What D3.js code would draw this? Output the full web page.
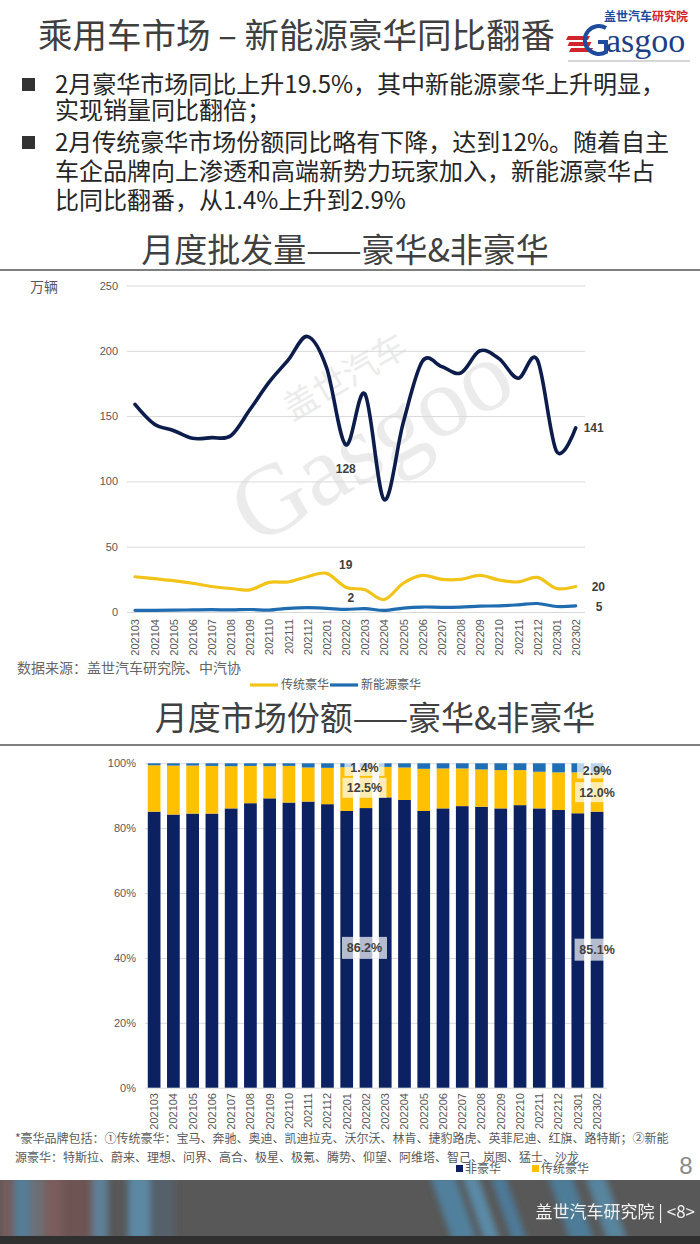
<!DOCTYPE html>
<html><head><meta charset="utf-8">
<script src="https://cdn.jsdelivr.net/npm/d3@7"></script>
<style>body{margin:0;background:#fff}svg{display:block}</style>
</head><body>
<script>
// ---------- data ----------
const months = ["202103","202104","202105","202106","202107","202108","202109","202110","202111","202112",
  "202201","202202","202203","202204","202205","202206","202207","202208","202209","202210","202211","202212",
  "202301","202302"];
const nonLuxVol = [159,144,139,133,133.5,135,155,176,193,211,187,128,167,86,145,192,188,183,200,194,179,193,123,141];
const tradVol   = [27,25.5,24,22,19.5,18,17,22.7,23,27,29.6,19,17,9.5,22,28,25,25,28,24.5,23,26.5,18,19.5];
const nevVol    = [1.3,1.3,1.4,1.6,1.8,1.6,1.9,1.5,2.8,3.3,2.8,2.0,2.6,1.2,3.0,3.8,3.6,3.8,4.5,4.7,5.5,6.5,4.2,4.7];
const volTicks = [0,50,100,150,200,250];

const nonLuxShare = [85.1,84.2,84.5,84.5,86.1,87.7,89.2,87.9,88.2,87.4,85.3,86.2,89.5,88.7,85.3,86.1,86.8,86.6,86.1,87.1,86.1,85.6,84.6,85.1];
const tradShare   = [14.3,15.1,14.8,14.7,13.0,11.5,9.9,11.3,10.5,11.2,13.5,12.5,9.4,10.0,13.0,12.3,11.6,11.5,11.8,10.8,11.3,11.6,12.6,12.0];
const nevShare    = [0.6,0.7,0.7,0.8,0.9,0.8,0.9,0.8,1.3,1.4,1.2,1.4,1.1,1.3,1.7,1.6,1.6,1.9,2.1,2.1,2.6,2.8,2.8,2.9];
const shareTicks = [0,20,40,60,80,100];

const pageTitle = "乘用车市场 – 新能源豪华同比翻番";
const bulletLines = [
  ["2月豪华市场同比上升19.5%，其中新能源豪华上升明显，", "实现销量同比翻倍；"],
  ["2月传统豪华市场份额同比略有下降，达到12%。随着自主", "车企品牌向上渗透和高端新势力玩家加入，新能源豪华占", "比同比翻番，从1.4%上升到2.9%"]
];
const chart1Title = "月度批发量——豪华&非豪华";
const chart2Title = "月度市场份额——豪华&非豪华";
const unitLabel = "万辆";
const sourceText = "数据来源：盖世汽车研究院、中汽协";
const legend1 = ["传统豪华","新能源豪华"];
const legend2 = ["非豪华","传统豪华"];
const footnote = ["*豪华品牌包括：①传统豪华：宝马、奔驰、奥迪、凯迪拉克、沃尔沃、林肯、捷豹路虎、英菲尼迪、红旗、路特斯；②新能",
  "源豪华：特斯拉、蔚来、理想、问界、高合、极星、极氪、腾势、仰望、阿维塔、智己、岚图、猛士、沙龙"];
const footerText = "盖世汽车研究院 | <8>";

// ---------- setup ----------
const CJK = '"Noto Sans CJK SC", "Noto Sans", sans-serif';
const NUM = '"Liberation Sans", Arial, sans-serif';
const C = {navyLine:"#0d1d4b", yellow:"#f2c318", blue:"#1f6cb0", navyBar:"#0b2161", yBar:"#ffc000", bBar:"#1e6fb6", grid:"#d9d9d9", tick:"#595959", label:"#404040"};

const svg = d3.select("body").append("svg").attr("width",700).attr("height",1244);
const defs = svg.append("defs");
defs.append("filter").attr("id","blur").attr("x","-10%").attr("y","-10%").attr("width","120%").attr("height","120%")
  .append("feGaussianBlur").attr("stdDeviation",3);
defs.append("clipPath").attr("id","footclip").append("rect").attr("x",0).attr("y",1180).attr("width",700).attr("height",56);
svg.append("rect").attr("width",700).attr("height",1244).attr("fill","#fff");

// ---------- header ----------
svg.append("text").attr("x",38).attr("y",48).attr("font-family",CJK).attr("font-size",34.5)
  .attr("fill","#3f3f3f").text(pageTitle);

// logo
const logo = svg.append("g");
logo.append("text").attr("x",604).attr("y",21).attr("font-family",CJK).attr("font-size",12).attr("font-weight",700)
  .call(t=>{t.append("tspan").attr("fill","#1d4c9c").text("盖世汽车");t.append("tspan").attr("fill","#d1242b").text("研究院");});
[0,1,2].forEach(i=>logo.append("path").attr("d",`M${568+i*1.5},${36+i*6} h22 l-2,4 h-22 z`).attr("fill","#d1242b"));
logo.append("path").attr("d","M606,28 A14,14 0 1 0 606,52 L606,42 L598,42").attr("fill","none").attr("stroke","#1d4c9c").attr("stroke-width",4);
logo.append("text").attr("x",606).attr("y",52).attr("font-family",'"Liberation Serif", serif').attr("font-size",34)
  .attr("fill","#1d3f85").text("asgoo");
logo.append("line").attr("x1",568).attr("x2",690).attr("y1",61).attr("y2",61).attr("stroke","#999").attr("stroke-width",0.8);

// bullets
let by = [93,119,151,180,209], k=0;
bulletLines.forEach((lines)=>{
  svg.append("rect").attr("x",22).attr("y",by[k]-15).attr("width",13).attr("height",13).attr("fill","#333");
  lines.forEach(l=>{
    svg.append("text").attr("x",55).attr("y",by[k]).attr("font-family",CJK).attr("font-size",24).attr("fill","#262626").text(l);
    k++;
  });
});

// section titles and rules
svg.append("text").attr("x",345).attr("y",262).attr("text-anchor","middle").attr("font-family",CJK).attr("font-size",33).attr("fill","#404040").text(chart1Title);
svg.append("rect").attr("x",0).attr("y",269).attr("width",700).attr("height",2).attr("fill","#7f7f7f");
svg.append("text").attr("x",375).attr("y",730).attr("text-anchor","middle").attr("font-family",CJK).attr("font-size",33).attr("fill","#404040").text(chart2Title);
svg.append("rect").attr("x",0).attr("y",744).attr("width",700).attr("height",2).attr("fill","#7f7f7f");

// ---------- line chart ----------
const x1 = d3.scalePoint().domain(months).range([135,575.7]);
const y1 = d3.scaleLinear().domain([0,250]).range([612,285.5]);

// watermark
const wm = svg.append("g").attr("transform","translate(370,440) rotate(-30)").attr("opacity",0.4);
wm.append("text").attr("text-anchor","middle").attr("y",35).attr("font-family",'"Liberation Serif", serif').attr("font-size",100).attr("fill","#cfcfcf").text("Gasgoo");
wm.append("text").attr("text-anchor","middle").attr("x",10).attr("y",-55).attr("font-family",CJK).attr("font-size",34).attr("fill","#cfcfcf").text("盖世汽车");

const g1 = svg.append("g");
g1.append("g").attr("transform","translate(127,0)")
  .call(d3.axisLeft(y1).tickValues(volTicks).tickSize(-458).tickPadding(9))
  .call(g=>{g.select(".domain").remove();
    g.selectAll(".tick line").attr("stroke",C.grid);
    g.selectAll(".tick text").attr("font-family",NUM).attr("font-size",11).attr("fill",C.tick);});
g1.append("g").attr("transform","translate(0,616)")
  .call(d3.axisBottom(x1).tickSize(0).tickPadding(0))
  .call(g=>{g.select(".domain").remove();
    g.selectAll(".tick text").attr("font-family",NUM).attr("font-size",11).attr("fill",C.tick)
      .attr("transform","rotate(-90)").attr("text-anchor","end").attr("dy","0.35em").attr("x",-3).attr("y",0);});
svg.append("text").attr("x",30).attr("y",292).attr("font-family",CJK).attr("font-size",14).attr("fill",C.tick).text(unitLabel);

const lineGen = d3.line().x((d,i)=>x1(months[i])).y(d=>y1(d)).curve(d3.curveCatmullRom.alpha(0));
[[nonLuxVol,C.navyLine,3.6],[tradVol,C.yellow,3.2],[nevVol,C.blue,3.2]].forEach(([data,col,w])=>{
  g1.append("path").datum(data).attr("d",lineGen).attr("fill","none").attr("stroke",col).attr("stroke-width",w).attr("stroke-linecap","round");
});
const fmt0 = v=>String(Math.round(v));
const lbl = (x,y,t,anchor)=>g1.append("text").attr("x",x).attr("y",y).attr("dy","0.35em").attr("text-anchor",anchor)
  .attr("font-family",NUM).attr("font-weight",700).attr("font-size",12).attr("fill",C.label).text(t);
const i1 = 11, iL = months.length-1;
lbl(x1(months[i1]), y1(nonLuxVol[i1])+24, fmt0(nonLuxVol[i1]), "middle");
lbl(x1(months[i1]), y1(tradVol[i1])-22, fmt0(tradVol[i1]), "middle");
lbl(x1(months[i1])+5, y1(nevVol[i1])-12, fmt0(nevVol[i1]), "middle");
lbl(x1(months[iL])+8, y1(nonLuxVol[iL]), fmt0(nonLuxVol[iL]), "start");
lbl(x1(months[iL])+16, y1(tradVol[iL]), fmt0(tradVol[iL]), "start");
lbl(x1(months[iL])+20, y1(nevVol[iL])+1, fmt0(nevVol[iL]), "start");

svg.append("text").attr("x",17).attr("y",673).attr("font-family",CJK).attr("font-size",14).attr("fill","#666").text(sourceText);
// legend 1
[[250,C.yellow,legend1[0]],[330,C.blue,legend1[1]]].forEach(([lx,col,t])=>{
  svg.append("line").attr("x1",lx).attr("x2",lx+28).attr("y1",685).attr("y2",685).attr("stroke",col).attr("stroke-width",3.2);
  svg.append("text").attr("x",lx+31).attr("y",689).attr("font-family",CJK).attr("font-size",12).attr("fill",C.tick).text(t);
});

// ---------- bar chart ----------
const x2 = d3.scaleBand().domain(months).range([144.5,606.7]).paddingInner(0.34).paddingOuter(0.17);
const y2 = d3.scaleLinear().domain([0,100]).range([1087.7,763.3]);
const g2 = svg.append("g");
g2.append("g").attr("transform","translate(145,0)")
  .call(d3.axisLeft(y2).tickValues(shareTicks).tickFormat(d=>d+"%").tickSize(-462).tickPadding(9))
  .call(g=>{g.select(".domain").remove();
    g.selectAll(".tick line").attr("stroke",C.grid);
    g.selectAll(".tick text").attr("font-family",NUM).attr("font-size",11).attr("fill",C.tick);});
g2.append("g").attr("transform","translate(0,1091)")
  .call(d3.axisBottom(x2).tickSize(0).tickPadding(0))
  .call(g=>{g.select(".domain").remove();
    g.selectAll(".tick text").attr("font-family",NUM).attr("font-size",11).attr("fill",C.tick)
      .attr("transform","rotate(-90)").attr("text-anchor","end").attr("dy","0.35em").attr("x",-2).attr("y",0);});

months.forEach((m,i)=>{
  const a = nonLuxShare[i], b = a+tradShare[i], c = b+nevShare[i];
  g2.append("rect").attr("x",x2(m)).attr("width",x2.bandwidth()).attr("y",y2(a)).attr("height",y2(0)-y2(a)).attr("fill",C.navyBar);
  g2.append("rect").attr("x",x2(m)).attr("width",x2.bandwidth()).attr("y",y2(b)).attr("height",y2(a)-y2(b)).attr("fill",C.yBar);
  g2.append("rect").attr("x",x2(m)).attr("width",x2.bandwidth()).attr("y",y2(Math.min(c,100.2))).attr("height",y2(b)-y2(Math.min(c,100.2))).attr("fill",C.bBar);
});
const fmtP = d3.format(".1f");
const boxLbl = (cx,cy,t,w,h)=>{
  g2.append("rect").attr("x",cx-w/2).attr("y",cy-h/2).attr("width",w).attr("height",h).attr("fill","#fff").attr("opacity",0.7);
  g2.append("text").attr("x",cx).attr("y",cy).attr("dy","0.36em").attr("text-anchor","middle").attr("font-family",NUM)
    .attr("font-weight",700).attr("font-size",12.5).attr("fill",C.label).text(t);
};
[[11,-1.5],[iL,0]].forEach(([i,dx])=>{
  const cx = x2(months[i])+x2.bandwidth()/2 + dx;
  const a = nonLuxShare[i], b=a+tradShare[i];
  boxLbl(cx, y2(a/2), fmtP(nonLuxShare[i])+"%", 45, 22);
  boxLbl(cx, y2((a+b)/2), fmtP(tradShare[i])+"%", 44, 20);
  boxLbl(cx, y2(Math.min(100,(b+100)/2))+2, fmtP(nevShare[i])+"%", 40, 17);
});

// footnote & legend 2
footnote.forEach((t,i)=>svg.append("text").attr("x",15).attr("y",1143+i*19).attr("font-family",CJK).attr("font-size",12).attr("fill","#595959").text(t));
[[456,C.navyBar,legend2[0]],[532,C.yBar,legend2[1]]].forEach(([lx,col,t])=>{
  svg.append("rect").attr("x",lx).attr("y",1165).attr("width",7).attr("height",7).attr("fill",col);
  svg.append("text").attr("x",lx+9).attr("y",1173).attr("font-family",CJK).attr("font-size",12).attr("fill",C.tick).text(t);
});
svg.append("text").attr("x",686).attr("y",1174).attr("text-anchor","middle").attr("font-family",NUM).attr("font-size",24).attr("fill","#8a8a8a").text("8");

// ---------- footer band ----------
const ft = svg.append("g");
ft.append("rect").attr("x",0).attr("y",1180).attr("width",700).attr("height",64).attr("fill","#585858");
const fs = ft.append("g").attr("clip-path","url(#footclip)").append("g").attr("filter","url(#blur)");
const stripes = [[0,14,"#735c5b"],[14,30,"#557d96"],[30,44,"#6b6f76"],[44,62,"#7a5d5b"],[62,92,"#6e5453"],[92,108,"#5f7f95"],
  [128,150,"#5b88a3"],[150,175,"#55616b"]];
stripes.forEach(([a,b,c])=>fs.append("rect").attr("x",a).attr("y",1175).attr("width",b-a).attr("height",66).attr("fill",c));
[[430,455,"#4f8db3"],[462,478,"#5b9bc0"],[490,505,"#4a86ad"],[548,572,"#4b88ad"],[585,605,"#5a93b6"]].forEach(([a,b,c])=>
  fs.append("path").attr("d",`M${a},1176 L${b},1176 L${b+22},1240 L${a+22},1240 Z`).attr("fill",c).attr("opacity",0.75));
ft.append("rect").attr("x",0).attr("y",1236).attr("width",700).attr("height",8).attr("fill","#303030");
ft.append("text").attr("x",695).attr("y",1218).attr("text-anchor","end").attr("font-family",CJK).attr("font-size",17).attr("fill","#f2f2f2").text(footerText);
</script>
</body></html>
